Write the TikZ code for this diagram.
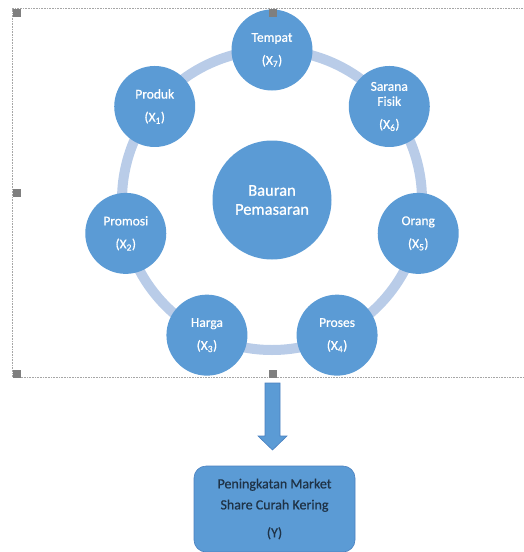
\documentclass[tikz,border=0pt]{standalone}
\usepackage{fontspec}
\setmainfont{Carlito}
\newfontfamily\heavyfont[FakeBold=0.7]{Carlito}
\usetikzlibrary{calc}
\definecolor{cblue}{HTML}{5B9BD5}
\definecolor{cring}{HTML}{B9CCE8}
\definecolor{cedge}{HTML}{4A80BF}
\definecolor{ctext}{HTML}{1F3347}
\definecolor{chandle}{HTML}{7F7F7F}
\begin{document}
\begin{tikzpicture}[x=1pt,y=-1pt,
  item/.style={circle,fill=cblue,draw=none,minimum size=81pt,inner sep=0pt,
    text=white,align=center,font=\heavyfont\fontsize{13.5}{15}\selectfont},
  hub/.style={circle,fill=cblue,draw=none,minimum size=119pt,inner sep=0pt,
    text=white,align=center,font=\heavyfont\fontsize{16.5}{19}\selectfont},
  handle/.style={fill=chandle,draw=none,minimum size=8pt,inner sep=0pt},
  frame/.style={draw=gray!70,line width=0.6pt,dash pattern=on 0.8pt off 0.8pt},
  goal/.style={rectangle,rounded corners=12pt,fill=cblue,draw=cedge,line width=0.6pt,
    minimum width=161pt,minimum height=86pt,inner sep=0pt,text=ctext,align=center,
    font=\heavyfont\fontsize{14}{21}\selectfont},
  blockarrow/.style={fill=cblue,draw=cedge,line width=0.6pt}]
\useasboundingbox (0,0) rectangle (523,552);
% frame
\draw[frame] (523,8.5) -- (12.3,8.5) -- (12.3,377.5) -- (523,377.5);
% ring
\coordinate (ctr) at (272,200);
\draw[cring,line width=10pt] (ctr) circle[radius=150];
% hub
\node[hub] (hub) at (ctr) {Bauran\\Pemasaran};
% items
\node[item] (tempat) at ($(ctr)+(90:150 and -150)$) {Tempat\\[8pt](X\textsubscript{7})};
\node[item] (produk) at ($(ctr)+(141.43:150 and -150)$) {Produk\\[8pt](X\textsubscript{1})};
\node[item] (promosi) at ($(ctr)+(192.86:150 and -150)$) {Promosi\\[8pt](X\textsubscript{2})};
\node[item] (harga) at ($(ctr)+(244.29:150 and -150)$) {Harga\\[8pt](X\textsubscript{3})};
\node[item] (proses) at ($(ctr)+(295.71:150 and -150)$) {Proses\\[8pt](X\textsubscript{4})};
\node[item] (orang) at ($(ctr)+(347.14:150 and -150)$) {Orang\\[8pt](X\textsubscript{5})};
\node[item] (sarana) at ($(ctr)+(38.57:150 and -150)$) {Sarana\\Fisik\\[8pt](X\textsubscript{6})};
% handles
\node[handle] (h1) at (17,13) {};
\node[handle] (h2) at (272.5,13) {};
\node[handle] (h3) at (17,193) {};
\node[handle] (h4) at (17,373.5) {};
\node[handle] (h5) at (272.5,373.5) {};
% goal box
\node[goal] (goal) at (274.5,509) {Peningkatan Market\\Share Curah Kering\\[7pt](Y)};
% block arrow
\coordinate (atop) at (272.5,383);
\coordinate (atip) at (272.5,450);
\draw[blockarrow] ($(atop)+(-7.5,0)$) -- ($(atop)+(7.5,0)$) -- ($(atop)+(7.5,53)$)
  -- ($(atop)+(14.5,53)$) -- (atip) -- ($(atop)+(-14.5,53)$) -- ($(atop)+(-7.5,53)$) -- cycle;
\end{tikzpicture}
\end{document}
